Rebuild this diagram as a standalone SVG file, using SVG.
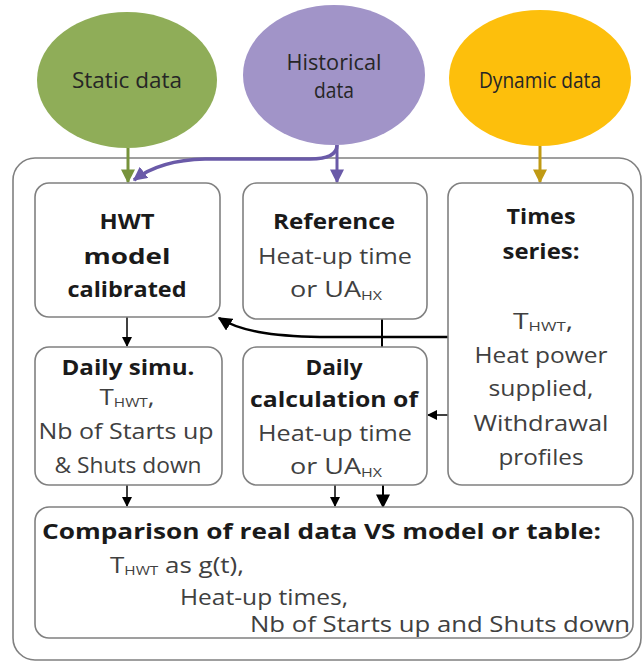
<svg xmlns="http://www.w3.org/2000/svg" width="644" height="664" viewBox="0 0 644 664">
<style>
.t{font-family:"Open Sans","DejaVu Sans",sans-serif;font-size:22px;fill:#404040;text-anchor:middle}
.b{font-weight:bold;fill:#1a1a1a}
.e{font-family:"Open Sans","DejaVu Sans",sans-serif;font-size:21px;fill:#262626;text-anchor:middle}
.box{fill:#fff;stroke:#808080;stroke-width:1.6}
.sub{font-size:13px}
.k{stroke:#000;fill:none}
</style>
<defs>
<marker id="ab" viewBox="0 0 10 10" refX="9" refY="5" markerWidth="10" markerHeight="10" markerUnits="userSpaceOnUse" orient="auto"><path d="M0,0 L10,5 L0,10 z" fill="#000"/></marker>
<marker id="abL" viewBox="0 0 10 10" refX="9" refY="5" markerWidth="14" markerHeight="14" markerUnits="userSpaceOnUse" orient="auto"><path d="M0,0 L10,5 L0,10 z" fill="#000"/></marker>
<marker id="ag" viewBox="0 0 10 10" refX="9" refY="5" markerWidth="14" markerHeight="14" markerUnits="userSpaceOnUse" orient="auto"><path d="M0,0 L10,5 L0,10 z" fill="#77933c"/></marker>
<marker id="ap" viewBox="0 0 10 10" refX="9" refY="5" markerWidth="14" markerHeight="14" markerUnits="userSpaceOnUse" orient="auto"><path d="M0,0 L10,5 L0,10 z" fill="#6a5aa8"/></marker>
<marker id="ay" viewBox="0 0 10 10" refX="9" refY="5" markerWidth="14" markerHeight="14" markerUnits="userSpaceOnUse" orient="auto"><path d="M0,0 L10,5 L0,10 z" fill="#c09a14"/></marker>
</defs>
<rect width="644" height="664" fill="#fff"/>
<g id="container"><rect x="13" y="158" width="628" height="502" rx="22" fill="none" stroke="#808080" stroke-width="1.6"/></g>
<g id="static"><ellipse cx="127" cy="80" rx="90" ry="68" fill="#8fad58"/><text class="e" x="127" y="88" textLength="110" lengthAdjust="spacingAndGlyphs">Static data</text></g>
<g id="historical"><ellipse cx="334" cy="75" rx="91" ry="70" fill="#a194c8"/><text class="e" x="334" y="70" textLength="95" lengthAdjust="spacingAndGlyphs">Historical</text><text class="e" x="334" y="98" textLength="40" lengthAdjust="spacingAndGlyphs">data</text></g>
<g id="dynamic"><ellipse cx="540" cy="78" rx="91" ry="68" fill="#fdbf0c"/><text class="e" x="540" y="88" textLength="122" lengthAdjust="spacingAndGlyphs">Dynamic data</text></g>
<g id="connectors">
<path d="M128,148 V182" stroke="#77933c" stroke-width="3" fill="none" marker-end="url(#ag)"/>
<path d="M337,145 V182" stroke="#6a5aa8" stroke-width="3" fill="none" marker-end="url(#ap)"/>
<path d="M337,145 Q337,159 310,159 L205,159 Q160,160 134,180" stroke="#6a5aa8" stroke-width="3.5" fill="none" marker-end="url(#ap)"/>
<path d="M540,146 V182" stroke="#c09a14" stroke-width="3" fill="none" marker-end="url(#ay)"/>
<path class="k" d="M127,316 V346" stroke-width="1.5" marker-end="url(#ab)"/>
<path class="k" d="M448,337 L320,337 C270,336 240,331 219,318" stroke-width="2.5" marker-end="url(#abL)"/>
<path class="k" d="M382,319 V347" stroke-width="2"/>
<path class="k" d="M448,415 H428" stroke-width="1.5" marker-end="url(#ab)"/>
<path class="k" d="M127,485 V506" stroke-width="1.5" marker-end="url(#ab)"/>
<path class="k" d="M335,485 V506" stroke-width="1.5" marker-end="url(#ab)"/>
<path class="k" d="M383,485 V507" stroke-width="2" marker-end="url(#abL)"/>
</g>
<g id="hwt"><rect class="box" x="35" y="183" width="185" height="134" rx="14"/>
<text class="t b" x="127" y="229" textLength="55" lengthAdjust="spacingAndGlyphs">HWT</text>
<text class="t b" x="127" y="264" textLength="87" lengthAdjust="spacingAndGlyphs">model</text>
<text class="t b" x="127" y="297" textLength="119" lengthAdjust="spacingAndGlyphs">calibrated</text></g>
<g id="reference"><rect class="box" x="243" y="183" width="184" height="136" rx="14"/>
<text class="t b" x="334" y="229" textLength="122" lengthAdjust="spacingAndGlyphs">Reference</text>
<text class="t" x="335" y="264" textLength="154" lengthAdjust="spacingAndGlyphs">Heat-up time</text>
<text class="t" x="336" y="297" textLength="92" lengthAdjust="spacingAndGlyphs">or UA<tspan class="sub" dy="3">HX</tspan></text></g>
<g id="times"><rect class="box" x="448" y="183" width="185" height="302" rx="14"/>
<text class="t b" x="541" y="224" textLength="69" lengthAdjust="spacingAndGlyphs">Times</text>
<text class="t b" x="541" y="259" textLength="77" lengthAdjust="spacingAndGlyphs">series:</text>
<text class="t" x="543" y="329" textLength="60" lengthAdjust="spacingAndGlyphs">T<tspan class="sub" dy="2">HWT</tspan><tspan dy="-2">,</tspan></text>
<text class="t" x="541" y="363" textLength="133" lengthAdjust="spacingAndGlyphs">Heat power</text>
<text class="t" x="541" y="396" textLength="105" lengthAdjust="spacingAndGlyphs">supplied,</text>
<text class="t" x="541" y="431" textLength="135" lengthAdjust="spacingAndGlyphs">Withdrawal</text>
<text class="t" x="541" y="465" textLength="85" lengthAdjust="spacingAndGlyphs">profiles</text></g>
<g id="dailysimu"><rect class="box" x="35" y="347" width="187" height="138" rx="14"/>
<text class="t b" x="128" y="375" textLength="133" lengthAdjust="spacingAndGlyphs">Daily simu.</text>
<text class="t" x="127" y="405" textLength="55" lengthAdjust="spacingAndGlyphs">T<tspan class="sub" dy="2">HWT</tspan><tspan dy="-2">,</tspan></text>
<text class="t" x="126" y="439" textLength="175" lengthAdjust="spacingAndGlyphs">Nb of Starts up</text>
<text class="t" x="128" y="473" textLength="147" lengthAdjust="spacingAndGlyphs">&amp; Shuts down</text></g>
<g id="dailycalc"><rect class="box" x="243" y="347" width="184" height="138" rx="14"/>
<text class="t b" x="334" y="375" textLength="57" lengthAdjust="spacingAndGlyphs">Daily</text>
<text class="t b" x="334" y="407" textLength="168" lengthAdjust="spacingAndGlyphs">calculation of</text>
<text class="t" x="335" y="441" textLength="154" lengthAdjust="spacingAndGlyphs">Heat-up time</text>
<text class="t" x="336" y="474" textLength="92" lengthAdjust="spacingAndGlyphs">or UA<tspan class="sub" dy="3">HX</tspan></text></g>
<g id="comparison"><rect class="box" x="35" y="507" width="598" height="131" rx="14"/>
<text class="t b" x="42" y="539" style="text-anchor:start" textLength="559" lengthAdjust="spacingAndGlyphs">Comparison of real data VS model or table:</text>
<text class="t" x="110" y="573" style="text-anchor:start" textLength="134" lengthAdjust="spacingAndGlyphs">T<tspan class="sub" dy="2">HWT</tspan><tspan dy="-2"> as g(t),</tspan></text>
<text class="t" x="180" y="605" style="text-anchor:start" textLength="168" lengthAdjust="spacingAndGlyphs">Heat-up times,</text>
<text class="t" x="250" y="632" style="text-anchor:start" textLength="380" lengthAdjust="spacingAndGlyphs">Nb of Starts up and Shuts down</text></g>
</svg>
